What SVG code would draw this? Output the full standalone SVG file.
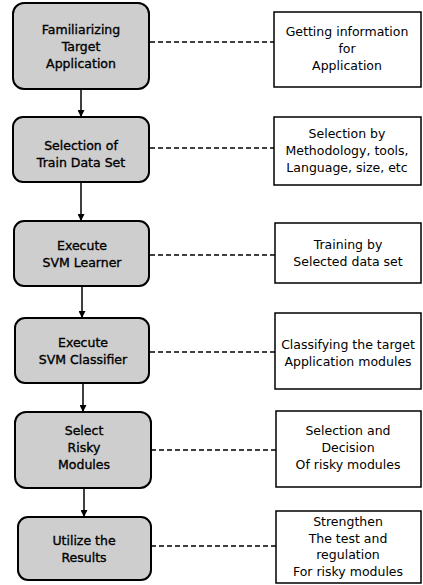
<svg xmlns="http://www.w3.org/2000/svg" width="423" height="585" viewBox="0 0 423 585">
<style>
.step{fill:#cecece;stroke:#000;stroke-width:2}
.note{fill:#fff;stroke:#000;stroke-width:1.5}
.t{font-family:"DejaVu Sans",Verdana,sans-serif;font-size:12.5px;fill:#000;text-anchor:middle}
.b{stroke:#000;stroke-width:0.35}
.flow{stroke:#000;stroke-width:1.5;fill:none}
.dash{stroke:#000;stroke-width:1.5;stroke-dasharray:5,3;fill:none}
</style>
<defs>
<marker id="ah" viewBox="0 0 10 10" refX="10" refY="5" markerWidth="7" markerHeight="7" markerUnits="userSpaceOnUse" orient="auto">
<path d="M0,0 L10,5 L0,10 z" fill="#000"/>
</marker>
</defs>
<g id="connectors">
<line class="flow" x1="81" y1="89" x2="81" y2="117" marker-end="url(#ah)"/>
<line class="flow" x1="81" y1="182" x2="81" y2="221" marker-end="url(#ah)"/>
<line class="flow" x1="82" y1="286" x2="82" y2="318" marker-end="url(#ah)"/>
<line class="flow" x1="83" y1="383" x2="83" y2="412" marker-end="url(#ah)"/>
<line class="flow" x1="84" y1="488" x2="84" y2="517" marker-end="url(#ah)"/>
<line class="dash" x1="150" y1="42" x2="274" y2="42"/>
<line class="dash" x1="150" y1="148" x2="274" y2="148"/>
<line class="dash" x1="150" y1="255" x2="275" y2="255"/>
<line class="dash" x1="150" y1="352" x2="275" y2="352"/>
<line class="dash" x1="151" y1="450" x2="276" y2="450"/>
<line class="dash" x1="151" y1="546" x2="276" y2="546"/>
</g>
<g id="step1">
<rect class="step" x="13" y="3" width="136" height="86" rx="11"/>
<text class="t b" x="81" y="34">Familiarizing</text>
<text class="t b" x="81" y="51">Target</text>
<text class="t b" x="81" y="68">Application</text>
</g>
<g id="step2">
<rect class="step" x="13" y="117" width="136" height="65" rx="10"/>
<text class="t b" x="81" y="150">Selection of</text>
<text class="t b" x="81" y="167">Train Data Set</text>
</g>
<g id="step3">
<rect class="step" x="14" y="221" width="135" height="65" rx="10"/>
<text class="t b" x="82" y="250">Execute</text>
<text class="t b" x="82" y="267">SVM Learner</text>
</g>
<g id="step4">
<rect class="step" x="15" y="318" width="134" height="65" rx="10"/>
<text class="t b" x="83" y="347">Execute</text>
<text class="t b" x="83" y="364">SVM Classifier</text>
</g>
<g id="step5">
<rect class="step" x="15" y="412" width="136" height="76" rx="11"/>
<text class="t b" x="84" y="435">Select</text>
<text class="t b" x="84" y="452">Risky</text>
<text class="t b" x="84" y="469">Modules</text>
</g>
<g id="step6">
<rect class="step" x="18" y="517" width="133" height="63" rx="10"/>
<text class="t b" x="84" y="545">Utilize the</text>
<text class="t b" x="84" y="562">Results</text>
</g>
<g id="note1">
<rect class="note" x="274" y="12" width="147" height="75"/>
<text class="t" x="347" y="36">Getting information</text>
<text class="t" x="347" y="53">for</text>
<text class="t" x="347" y="70">Application</text>
</g>
<g id="note2">
<rect class="note" x="274" y="117" width="147" height="68"/>
<text class="t" x="347" y="138">Selection by</text>
<text class="t" x="347" y="155">Methodology, tools,</text>
<text class="t" x="347" y="172">Language, size, etc</text>
</g>
<g id="note3">
<rect class="note" x="275" y="223" width="146" height="60"/>
<text class="t" x="348" y="249">Training by</text>
<text class="t" x="348" y="266">Selected data set</text>
</g>
<g id="note4">
<rect class="note" x="275" y="313" width="146" height="76"/>
<text class="t" x="348" y="349">Classifying the target</text>
<text class="t" x="348" y="366">Application modules</text>
</g>
<g id="note5">
<rect class="note" x="276" y="411" width="145" height="76"/>
<text class="t" x="348" y="435">Selection and</text>
<text class="t" x="348" y="452">Decision</text>
<text class="t" x="348" y="469">Of risky modules</text>
</g>
<g id="note6">
<rect class="note" x="276" y="511" width="145" height="72"/>
<text class="t" x="348" y="526">Strengthen</text>
<text class="t" x="348" y="542.5">The test and</text>
<text class="t" x="348" y="559">regulation</text>
<text class="t" x="348" y="575.5">For risky modules</text>
</g>
</svg>
